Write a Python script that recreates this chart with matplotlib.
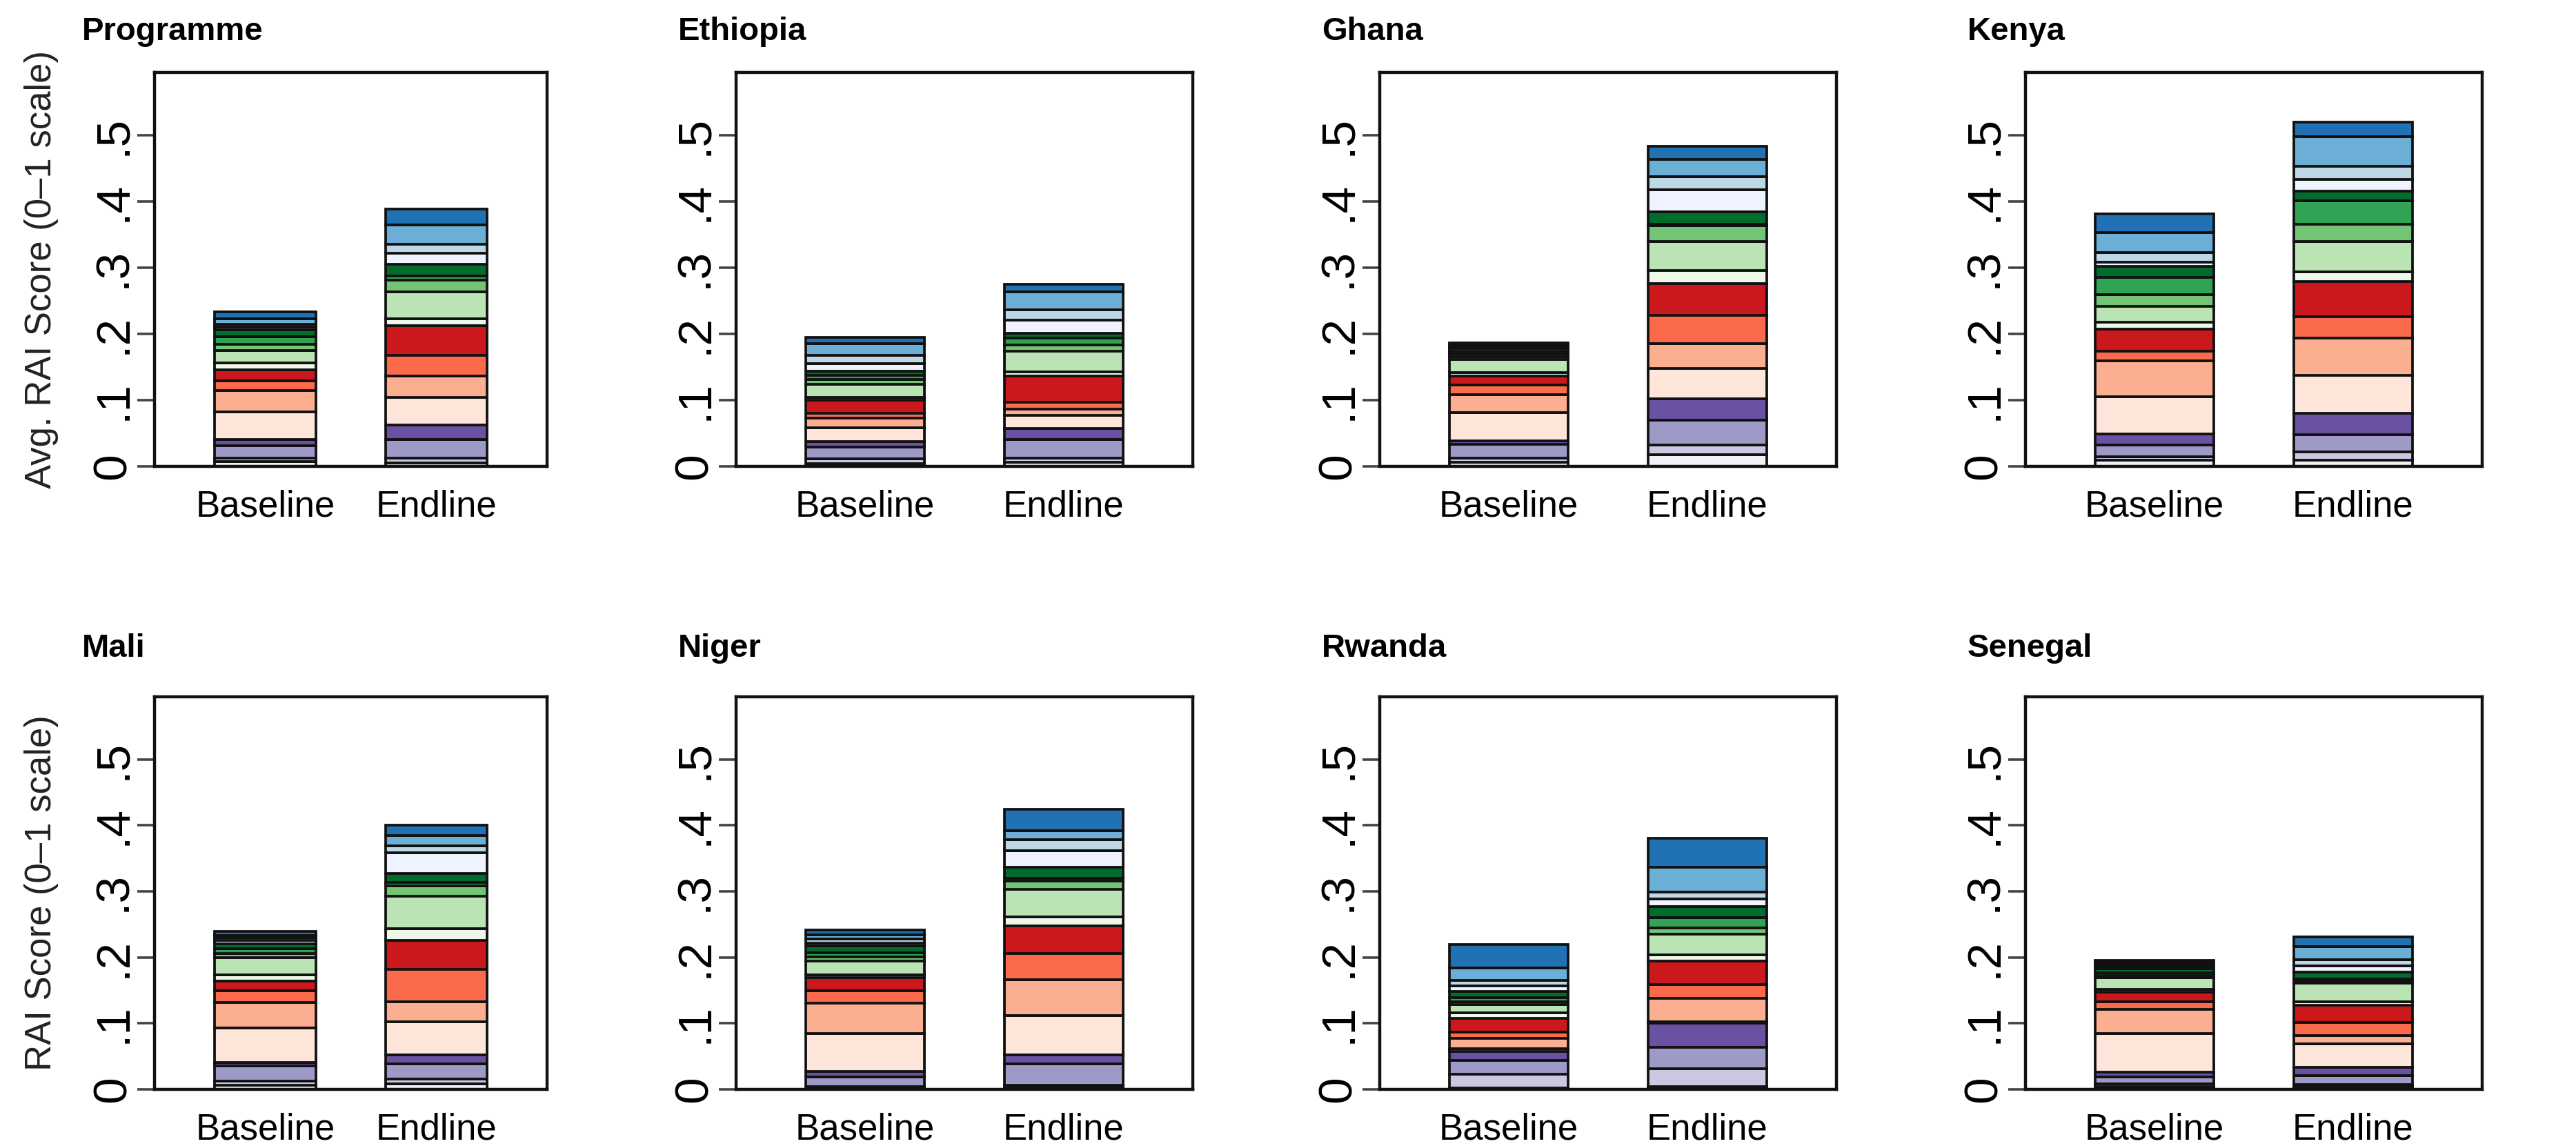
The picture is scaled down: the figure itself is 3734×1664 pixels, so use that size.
import numpy as np
import matplotlib
matplotlib.use("Agg")
import matplotlib.pyplot as plt

plt.rcParams['font.family'] = ['Liberation Sans', 'DejaVu Sans']

# panel titles, in reading order (4 columns x 2 rows)
panels = ["Programme", "Ethiopia", "Ghana", "Kenya",
          "Mali", "Niger", "Rwanda", "Senegal"]
rounds = ["Baseline", "Endline"]

# stacked components, bottom to top: 4 purples, 4 reds, 5 greens, 4 blues
purples = ['#f2f0f7', '#cbc9e2', '#9e9ac8', '#6a51a3']
reds = ['#fee5d9', '#fcae91', '#fb6a4a', '#cb181d']
greens = ['#edf8e9', '#bae4b3', '#74c476', '#31a354', '#006d2c']
blues = ['#eff3ff', '#bdd7e7', '#6baed6', '#2171b5']
colors = purples + reds + greens + blues

# component scores (same order as colors)
programme_base = [.007, .006, .018, .010, .041, .033, .014, .017, .010, .019, .009, .012, .010, .005, .004, .008, .010]
programme_end = [.005, .008, .028, .022, .041, .033, .031, .045, .010, .041, .017, .007, .017, .017, .014, .029, .024]
ethiopia_base = [.004, .007, .018, .009, .020, .015, .007, .020, .004, .020, .007, .007, .006, .011, .013, .018, .009]
ethiopia_end = [.006, .006, .029, .016, .020, .009, .011, .040, .006, .031, .009, .011, .007, .020, .016, .027, .011]
ghana_base = [.006, .007, .020, .006, .042, .027, .015, .013, .006, .020, .004, .004, .004, .004, .003, .003, .003]
ghana_end = [.018, .014, .038, .032, .046, .038, .042, .048, .020, .044, .024, .002, .018, .034, .020, .026, .020]
kenya_base = [.009, .006, .017, .017, .056, .054, .015, .033, .011, .024, .017, .026, .017, .006, .015, .030, .028]
kenya_end = [.009, .013, .026, .032, .058, .056, .032, .053, .015, .046, .026, .035, .015, .017, .020, .045, .022]
mali_base = [.006, .007, .023, .005, .052, .039, .018, .014, .010, .026, .006, .007, .008, .005, .004, .003, .006]
mali_end = [.008, .008, .023, .013, .050, .031, .049, .044, .018, .049, .016, .005, .013, .032, .010, .016, .015]
niger_base = [.002, .002, .015, .008, .058, .046, .019, .019, .005, .021, .006, .006, .010, .005, .006, .006, .008]
niger_end = [.004, .002, .033, .013, .060, .054, .040, .042, .013, .042, .013, .004, .017, .025, .017, .013, .033]
rwanda_base = [.002, .021, .021, .013, .005, .015, .010, .021, .008, .013, .004, .006, .010, .008, .008, .019, .036]
rwanda_end = [.004, .027, .033, .036, .002, .036, .021, .035, .010, .031, .010, .015, .017, .012, .010, .038, .044]
senegal_base = [.004, .004, .011, .007, .059, .036, .012, .014, .005, .017, .004, .004, .006, .003, .003, .003, .004]
senegal_end = [.004, .003, .014, .012, .036, .013, .019, .027, .005, .028, .003, .003, .011, .009, .010, .019, .015]

base_vals = [programme_base, ethiopia_base, ghana_base, kenya_base,
             mali_base, niger_base, rwanda_base, senegal_base]
end_vals = [programme_end, ethiopia_end, ghana_end, kenya_end,
            mali_end, niger_end, rwanda_end, senegal_end]

yticks = [0, .1, .2, .3, .4, .5]
ytick_labels = ["0", ".1", ".2", ".3", ".4", ".5"]
ylabels = ["Avg. RAI Score (0\u20131 scale)", "RAI Score (0\u20131 scale)"]

W, H = 3734, 1664
fig = plt.figure(figsize=(W / 100, H / 100), dpi=100)

# box edges in pixels
box_left = [224, 1067, 2000, 2936]
box_right = [793, 1729, 2662, 3598]
box_top = [105, 1010]
box_bottom = [676, 1579]

for i, name in enumerate(panels):
    r, c = divmod(i, 4)
    l, rt = box_left[c], box_right[c]
    t, b = box_top[r], box_bottom[r]
    ax = fig.add_axes([l / W, 1 - b / H, (rt - l) / W, (b - t) / H])

    for x, vals in enumerate([base_vals[i], end_vals[i]]):
        bottom = 0.0
        for v, col in zip(vals, colors):
            ax.bar(x, v, width=0.595, bottom=bottom, color=col,
                   edgecolor='#111111', linewidth=2.7)
            bottom += v

    ax.set_xlim(-0.65, 1.65)
    ax.set_ylim(0, 0.595)
    for sp in ax.spines.values():
        sp.set_linewidth(3.2)
        sp.set_color('#111111')

    ax.set_xticks([0, 1])
    ax.set_xticklabels(rounds, fontsize=38)
    ax.tick_params(axis='x', length=0, pad=24)
    ax.set_yticks(yticks)
    ax.set_yticklabels(ytick_labels, fontsize=50)
    ax.tick_params(axis='y', length=18, width=2.6, color='#444444', pad=2)
    for lab in ax.get_yticklabels():
        lab.set_rotation(90)
        lab.set_va('center')
        lab.set_ha('right')

    title_x = l - (105 if c == 0 else 84)
    title_y = 58 if r == 0 else 952
    fig.text(title_x / W, 1 - title_y / H, name, fontsize=34,
             fontweight='bold', ha='left', va='baseline')

    if c == 0:
        fig.text(60 / W, 1 - (t + b) / 2 / H, ylabels[r], fontsize=38,
                 rotation=90, ha='center', va='center', color='#222222')

fig.savefig("out.png", dpi=100)
